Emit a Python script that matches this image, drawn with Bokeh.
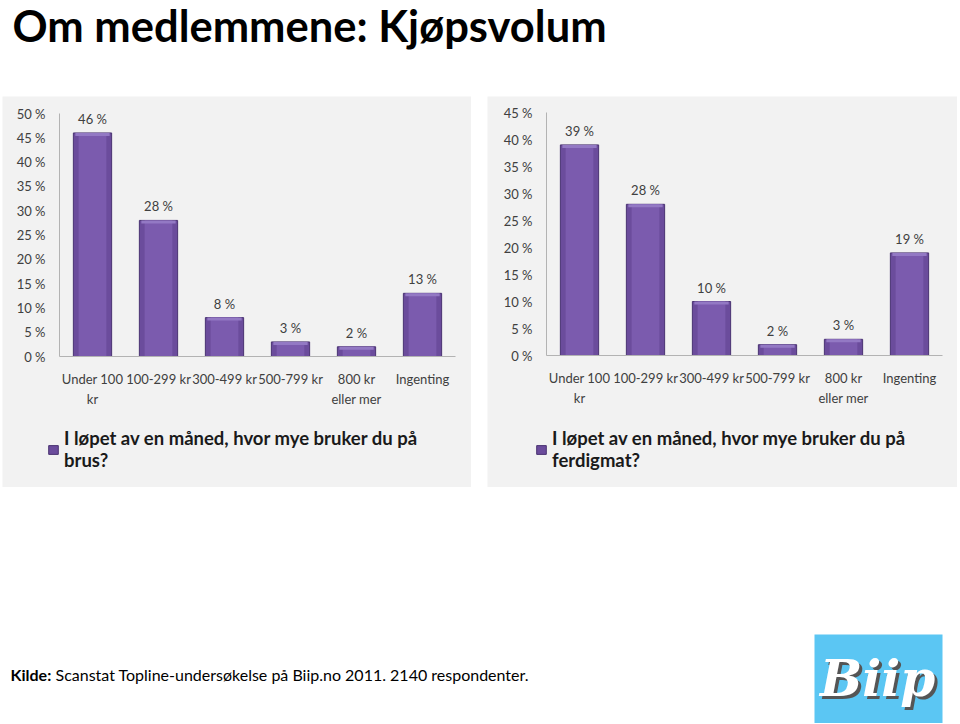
from bokeh.plotting import figure
from bokeh.models import (Range1d, Legend, LegendItem, ColumnDataSource,
                          FixedTicker, Spacer)
from bokeh.layouts import column, row
from bokeh.embed import file_html
from bokeh.resources import INLINE
from bokeh.core.properties import value

# ---------------- data ----------------
categories = ["Under 100 kr", "100-299 kr", "300-499 kr", "500-799 kr",
              "800 kr eller mer", "Ingenting"]
category_tick_labels = ["Under 100\nkr", "100-299 kr", "300-499 kr", "500-799 kr",
                        "800 kr\neller mer", "Ingenting"]
brus_values = [46, 28, 8, 3, 2, 13]
ferdigmat_values = [39, 28, 10, 2, 3, 19]
brus_series = "I løpet av en måned, hvor mye bruker du på\nbrus?"
ferdigmat_series = "I løpet av en måned, hvor mye bruker du på\nferdigmat?"
brus_ticks = [0, 5, 10, 15, 20, 25, 30, 35, 40, 45, 50]
ferdigmat_ticks = [0, 5, 10, 15, 20, 25, 30, 35, 40, 45]
title_text = "Om medlemmene: Kjøpsvolum"
source_bold = "Kilde:"
source_text = "Scanstat Topline-undersøkelse på Biip.no 2011. 2140 respondenter."
logo_text = "Biip"

FONT = "Lato"
PANEL_BG = "#f2f2f2"
AXIS_COLOR = "#b3b3b3"
TEXT_COLOR = "#404040"
BAR_FILL = "#6b4c9c"
BAR_LINE = "#4a3372"
BAR_CORE = "#7b5bae"
BAR_TOP = "#9379c4"

PANEL_H = 391
PLOT_H = 243         # px between 0 % and the top tick
CAT_W = 66           # px per category
TOP_BAND_PX = 3


def make_panel(values, ticks, ymax, series, width, pad_left, pad_top, legend_x):
    n = len(categories)
    xs = list(range(n))
    upx = ymax / PLOT_H
    src = ColumnDataSource(dict(x=xs, cat=categories, val=values,
                                band=[v - TOP_BAND_PX * upx for v in values],
                                txt=[f"{v} %" for v in values]))
    # the frame covers the whole panel; axes are pinned inside it
    pad_right = width - pad_left - n * CAT_W
    pad_bottom = PANEL_H - pad_top - PLOT_H
    x_range = Range1d(-0.5 - pad_left / CAT_W, n - 0.5 + pad_right / CAT_W)
    y_range = Range1d(-pad_bottom * upx, ymax + pad_top * upx)
    p = figure(width=width, height=PANEL_H, title=None,
               x_range=x_range, y_range=y_range,
               output_backend="svg", toolbar_location=None, min_border=0,
               background_fill_color=PANEL_BG, border_fill_color=PANEL_BG,
               outline_line_color=None)
    p.xgrid.grid_line_color = None
    p.ygrid.grid_line_color = None

    bars = p.vbar(x="x", top="val", width=0.58, source=src,
                  fill_color=BAR_FILL, line_color=BAR_LINE, line_width=1)
    p.vbar(x="x", top="val", width=0.42, source=src,
           fill_color=BAR_CORE, line_color=None)
    p.vbar(x="x", top="val", bottom="band", width=0.52, source=src,
           fill_color=BAR_TOP, line_color=None)
    p.text(x="x", y="val", text="txt", source=src, text_align="center",
           text_baseline="bottom", y_offset=-6, text_font=value(FONT),
           text_font_size="13px", text_color=TEXT_COLOR)

    # y axis (pinned at the left edge of the categories)
    p.yaxis.fixed_location = -0.5
    p.yaxis.bounds = (0, ymax)
    p.yaxis.ticker = FixedTicker(ticks=ticks)
    p.yaxis.major_label_overrides = {t: f"{t} %" for t in ticks}
    p.yaxis.major_tick_line_color = None
    p.yaxis.minor_tick_line_color = None
    p.yaxis.major_tick_out = 0
    p.yaxis.major_label_standoff = 14
    p.yaxis.axis_line_color = AXIS_COLOR
    p.yaxis.major_label_text_font = FONT
    p.yaxis.major_label_text_font_size = "13px"
    p.yaxis.major_label_text_color = TEXT_COLOR

    # x axis (pinned at 0 %)
    p.xaxis.fixed_location = 0
    p.xaxis.bounds = (-0.5, n - 0.5)
    p.xaxis.ticker = FixedTicker(ticks=xs)
    p.xaxis.major_label_overrides = dict(zip(xs, category_tick_labels))
    p.xaxis.major_tick_line_color = None
    p.xaxis.minor_tick_line_color = None
    p.xaxis.major_tick_out = 0
    p.xaxis.major_label_standoff = 14
    p.xaxis.axis_line_color = AXIS_COLOR
    p.xaxis.major_label_text_font = FONT
    p.xaxis.major_label_text_font_size = "13px"
    p.xaxis.major_label_text_color = TEXT_COLOR
    p.xaxis.major_label_text_line_height = 1.3

    legend = Legend(items=[LegendItem(label=series, renderers=[bars])],
                    location=(legend_x, 16), padding=0, margin=0,
                    background_fill_alpha=0, border_line_color=None,
                    glyph_width=12, glyph_height=11, label_standoff=5,
                    label_text_font=FONT, label_text_font_size="18.5px",
                    label_text_font_style="bold", label_text_color="#1a1a1a",
                    label_text_line_height=1.23)
    p.add_layout(legend)
    return p


left = make_panel(brus_values, brus_ticks, 50, brus_series,
                  width=469, pad_left=57, pad_top=17, legend_x=45)
right = make_panel(ferdigmat_values, ferdigmat_ticks, 45, ferdigmat_series,
                   width=470, pad_left=59, pad_top=16, legend_x=48)

# title strip
t = figure(width=957, height=96, title=None,
           x_range=Range1d(0, 957), y_range=Range1d(0, 96),
           output_backend="svg", toolbar_location=None, x_axis_type=None,
           y_axis_type=None, min_border=0, outline_line_color=None)
t.grid.grid_line_color = None
t.text(x=[12], y=[71.5], text=[title_text], text_font=value(FONT),
       text_font_size="43.5px", text_font_style="bold", text_color="#000000",
       text_baseline="middle")

# footer strip
f = figure(width=957, height=236, title=None,
           x_range=Range1d(0, 957), y_range=Range1d(0, 236),
           output_backend="svg", toolbar_location=None, x_axis_type=None,
           y_axis_type=None, min_border=0, outline_line_color=None)
f.grid.grid_line_color = None
f.text(x=[10], y=[49], text=[source_bold], text_font=value(FONT),
       text_font_size="16px", text_font_style="bold", text_color="#000000",
       text_baseline="middle")
f.text(x=[55], y=[49], text=[source_text], text_font=value(FONT),
       text_font_size="16px", text_color="#000000", text_baseline="middle")
f.quad(left=[814], right=[942], bottom=[0], top=[89], fill_color="#5bc6f3",
       line_color=None)
f.text(x=[880], y=[42], text=[logo_text], text_font=value("DejaVu Serif"),
       text_font_size="50px", text_font_style="bold italic", text_color="#555555",
       text_align="center", text_baseline="middle")
f.text(x=[877], y=[45], text=[logo_text], text_font=value("DejaVu Serif"),
       text_font_size="50px", text_font_style="bold italic", text_color="#ffffff",
       text_align="center", text_baseline="middle")

layout = column(t,
                row(Spacer(width=2, height=PANEL_H), left,
                    Spacer(width=16, height=PANEL_H), right),
                f)
open("out.html", "w").write(file_html(layout, INLINE))
